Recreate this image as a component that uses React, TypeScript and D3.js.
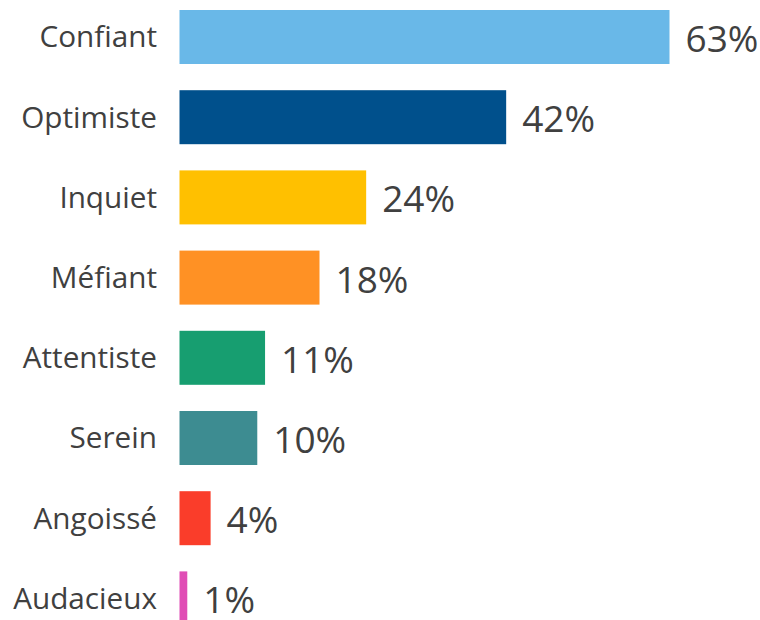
import React from "react";
import * as d3 from "d3";

const categories = ["Confiant", "Optimiste", "Inquiet", "Méfiant", "Attentiste", "Serein", "Angoissé", "Audacieux"];
const values = [63, 42, 24, 18, 11, 10, 4, 1];
const colors = ["#69B8E8", "#00508C", "#FFC000", "#FF9124", "#179E70", "#3D8C91", "#FA3D2A", "#E04DB5"];

const W = 760;
const H = 620;
const X0 = 179.5;
const STEP = 80.2;
const BAR = 54;
const TOP = 10;

export default function App() {
  const gap = STEP - BAR;
  const pi = gap / STEP;
  const y = d3
    .scaleBand<string>()
    .domain(categories)
    .range([TOP - gap / 2, TOP - gap / 2 + STEP * categories.length])
    .paddingInner(pi)
    .paddingOuter(pi / 2);
  const x = d3.scaleLinear().domain([0, 63]).range([X0, X0 + 490]);
  const font = "'Open Sans', 'DejaVu Sans', sans-serif";
  return (
    <svg
      width={W}
      height={H}
      style={{ position: "fixed", left: 0, top: 0, background: "#fff" }}
    >
      {categories.map((c, i) => {
        const yy = y(c) as number;
        const bw = y.bandwidth();
        const xe = x(values[i]);
        return (
          <g key={c}>
            <rect x={X0} y={yy} width={xe - X0} height={bw} fill={colors[i]} />
            <text
              x={157}
              y={yy + bw / 2}
              dy="0.35em"
              textAnchor="end"
              fontFamily={font}
              fontSize={29.7}
              fill="#404040"
            >
              {c}
            </text>
            <text
              x={xe + 16}
              y={yy + bw / 2 + 2}
              dy="0.35em"
              textAnchor="start"
              fontFamily={font}
              fontSize={37}
              fill="#404040"
            >
              {values[i] + "%"}
            </text>
          </g>
        );
      })}
    </svg>
  );
}
